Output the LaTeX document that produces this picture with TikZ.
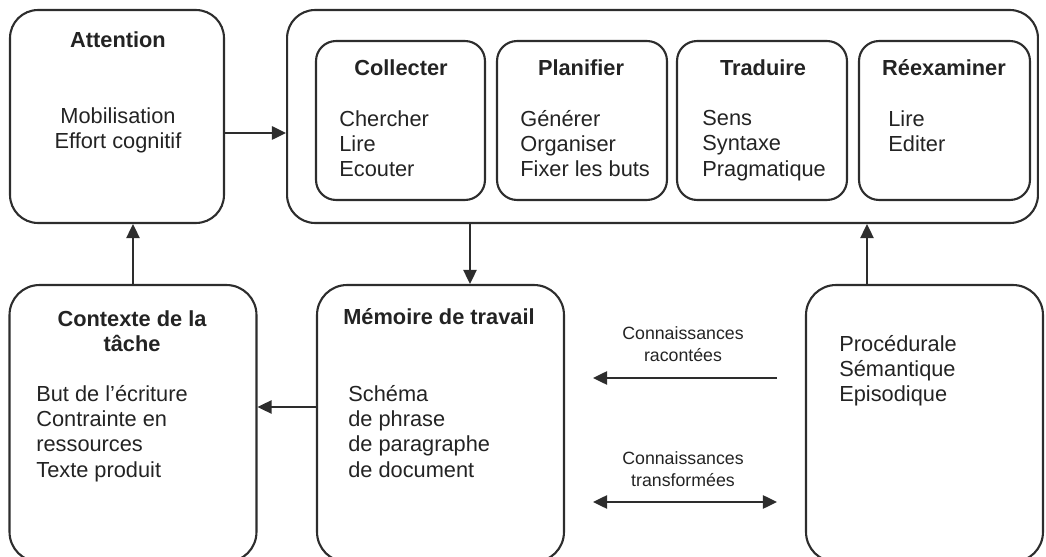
\documentclass[tikz,border=0pt]{standalone}
\usepackage{fontspec}
\setmainfont{Liberation Sans}
\usepackage{tikz}
\definecolor{linegray}{RGB}{45, 45, 45}
\definecolor{textgray}{RGB}{35, 35, 35}
\usetikzlibrary{arrows.meta, positioning}

\begin{document}
\begin{tikzpicture}[
    x=0.02cm, y=-0.02cm,
    box/.style={rectangle, draw=linegray, line width=1.2pt, rounded corners=0.56cm, inner sep=0pt},
    subbox/.style={box, rounded corners=0.4cm, minimum width=3.4cm, minimum height=3.18cm},
    lowbox/.style={box, rounded corners=0.6cm, minimum height=5.54cm},
    title/.style={font=\fontsize{12.4}{14.2}\selectfont\bfseries, text=textgray, align=center, inner sep=0pt},
    body/.style={font=\fontsize{12.4}{14.4}\selectfont, text=textgray, align=left, anchor=north west, inner sep=0pt},
    label/.style={font=\fontsize{10.1}{12.5}\selectfont, text=textgray, align=center, inner sep=0pt},
    arrow/.style={draw=linegray, line width=1.2pt, -{Triangle[length=8pt, width=7.5pt]}}
]
    \clip (0, 0) rectangle (1046, 557);

    % top row
    \node[box, minimum width=4.28cm, minimum height=4.26cm] (att) at (117, 116.5) {};
    \node[box, minimum width=15.02cm, minimum height=4.26cm] (proc) at (662.5, 116.5) {};
    \node[subbox, minimum width=3.38cm] (collect) at (400.5, 120.5) {};
    \node[subbox] (plan) at (582, 120.5) {};
    \node[subbox] (trad) at (762, 120.5) {};
    \node[subbox, minimum width=3.42cm] (rev) at (944.5, 120.5) {};

    % bottom row
    \node[lowbox, minimum width=4.94cm] (ctx) at (133, 423.5) {};
    \node[lowbox, minimum width=4.94cm] (mem) at (440.5, 423.5) {};
    \node[lowbox, minimum width=4.74cm] (ltm) at (924.5, 423.5) {};

    % titles
    \node[title] (attT) at (118, 40) {Attention};
    \node[title] (collectT) at (401, 68) {Collecter};
    \node[title] (planT) at (581, 68) {Planifier};
    \node[title] (tradT) at (763, 68) {Traduire};
    \node[title] (revT) at (944, 68) {Réexaminer};
    \node[title, anchor=north] (ctxT) at (132, 310) {Contexte de la\\tâche};
    \node[title] (memT) at (439, 317) {Mémoire de travail};

    % contents
    \node[body, align=center, anchor=north] (attB) at (118, 107) {Mobilisation\\Effort cognitif};
    \node[body] (collectB) at (339, 110) {Chercher\\Lire\\Ecouter};
    \node[body] (planB) at (520, 110) {Générer\\Organiser\\Fixer les buts};
    \node[body] (tradB) at (702, 110) {Sens\\Syntaxe\\Pragmatique};
    \node[body] (revB) at (888, 110) {Lire\\Editer};
    \node[body] (ctxB) at (36, 385) {But de l’écriture\\Contrainte en\\ressources\\Texte produit};
    \node[body] (memB) at (348, 385) {Schéma\\de phrase\\de paragraphe\\de document};
    \node[body] (ltmB) at (839, 335) {Procédurale\\Sémantique\\Episodique};

    % connectors
    \draw[arrow] (att.east |- 0, 133) -- (proc.west |- 0, 133);
    \draw[arrow] (proc.south -| 470, 0) -- (mem.north -| 470, 0);
    \draw[arrow] (ctx.north) -- (ctx.north |- att.south);
    \draw[arrow] (mem.west |- 0, 407) -- (ctx.east |- 0, 407);
    \draw[arrow] (ltm.north -| 867, 0) -- (proc.south -| 867, 0);

    \coordinate (tellR) at (777, 378);
    \coordinate (tellL) at (593, 378);
    \coordinate (transL) at (593, 502);
    \coordinate (transR) at (777, 502);
    \draw[arrow] (tellR) -- (tellL);
    \draw[arrow, {Triangle[length=8pt, width=7.5pt]}-{Triangle[length=8pt, width=7.5pt]}] (transL) -- (transR);

    \node[label] (tellT) at (683, 344) {Connaissances\\racontées};
    \node[label] (transT) at (683, 469) {Connaissances\\transformées};
\end{tikzpicture}
\end{document}
